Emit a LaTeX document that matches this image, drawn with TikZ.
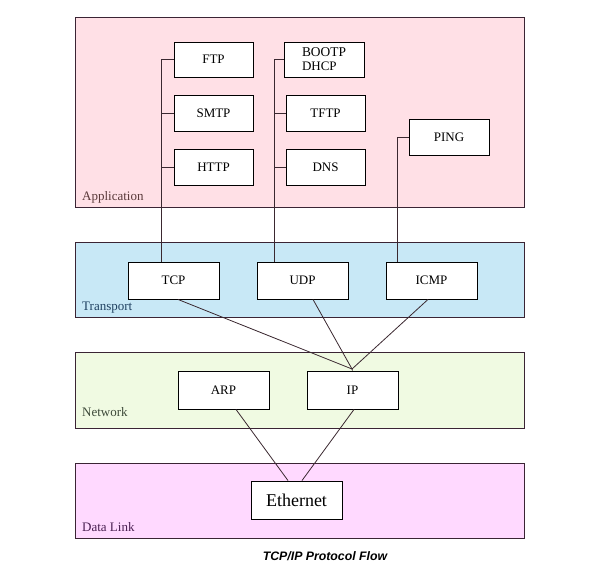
\documentclass[tikz,border=0pt]{standalone}
\usepackage{fontspec}
\setmainfont{Liberation Serif}
\newfontfamily\capfont{Liberation Sans}
\definecolor{appfill}{HTML}{FFE0E6}
\definecolor{trfill}{HTML}{C8E8F6}
\definecolor{netfill}{HTML}{F0FAE2}
\definecolor{dlfill}{HTML}{FFD9FF}
\definecolor{layerborder}{HTML}{3A2434}
\definecolor{applabel}{HTML}{5A3A3A}
\definecolor{trlabel}{HTML}{1F4060}
\definecolor{netlabel}{HTML}{3E4A3A}
\definecolor{dllabel}{HTML}{4A2052}
\definecolor{linkcol}{HTML}{3A2830}
\begin{document}
\begin{tikzpicture}[x=1pt,y=-1pt,
  layer/.style={draw=layerborder, line width=1pt},
  proto/.style={draw=black, fill=white, line width=0.9pt, font=\fontsize{13}{14}\selectfont, align=left},
  layerlabel/.style={anchor=west, font=\fontsize{13}{14}\selectfont, inner sep=0pt},
  link/.style={draw=linkcol, line width=0.8pt}]
\useasboundingbox (0,0) rectangle (597,577);
% layers
\draw[layer, fill=appfill] (75,18) rectangle (524,208);
\draw[layer, fill=trfill] (75,243) rectangle (524,318);
\draw[layer, fill=netfill] (75,352) rectangle (524,428);
\draw[layer, fill=dlfill] (75,463) rectangle (524,538);
\node[layerlabel, text=applabel] (lapp) at (82,197) {Application};
\node[layerlabel, text=trlabel] (ltr) at (82,308) {Transport};
\node[layerlabel, text=netlabel] (lnet) at (82,412) {Network};
\node[layerlabel, text=dllabel] (ldl) at (82,527) {Data Link};
% application boxes
\node[proto, minimum width=79pt, minimum height=35pt] (ftp) at (213.5,59.5) {FTP};
\node[proto, minimum width=79pt, minimum height=36pt] (smtp) at (213.5,113) {SMTP};
\node[proto, minimum width=79pt, minimum height=36pt] (http) at (213.5,167) {HTTP};
\node[proto, minimum width=80pt, minimum height=35pt, inner sep=1pt] (bootp) at (324,59.5) {\fontsize{13.4}{13}\selectfont BOOTP\\DHCP};
\node[proto, minimum width=79pt, minimum height=36pt] (tftp) at (325.5,113) {TFTP};
\node[proto, minimum width=79pt, minimum height=36pt] (dns) at (325.5,167) {DNS};
\node[proto, minimum width=80pt, minimum height=36pt] (ping) at (449,137) {PING};
% transport
\node[proto, minimum width=91pt, minimum height=37pt] (tcp) at (173.5,280.5) {TCP};
\node[proto, minimum width=91pt, minimum height=37pt] (udp) at (302.5,280.5) {UDP};
\node[proto, minimum width=91pt, minimum height=37pt] (icmp) at (431.5,280.5) {ICMP};
% network
\node[proto, minimum width=91pt, minimum height=38pt] (arp) at (223.5,390) {ARP};
\node[proto, minimum width=91pt, minimum height=38pt] (ip) at (352.5,390) {IP};
% data link
\node[proto, minimum width=91pt, minimum height=38pt, font=\fontsize{18}{19}\selectfont] (eth) at (296.5,500) {Ethernet};
% caption
\node[font=\capfont\bfseries\itshape\fontsize{12.3}{13}\selectfont] (cap) at (325,556) {TCP/IP Protocol Flow};
% connectors application -> transport
\coordinate (tcpj) at (161,0);
\coordinate (udpj) at (274,0);
\coordinate (icmpj) at (397,0);
\draw[link] (ftp.west) -- (ftp.west -| tcpj) -- (tcp.north -| tcpj);
\draw[link] (smtp.west) -- (smtp.west -| tcpj);
\draw[link] (http.west) -- (http.west -| tcpj);
\draw[link] (bootp.west) -- (bootp.west -| udpj) -- (udp.north -| udpj);
\draw[link] (tftp.west) -- (tftp.west -| udpj);
\draw[link] (dns.west) -- (dns.west -| udpj);
\draw[link] (ping.west) -- (ping.west -| icmpj) -- (icmp.north -| icmpj);
% transport -> network
\coordinate (ipj) at (352,369);
\draw[link] ([xshift=4.5pt]tcp.south) -- (ipj);
\draw[link] ([xshift=10.5pt]udp.south) -- (ipj);
\draw[link] ([xshift=-3.5pt]icmp.south) -- (ipj);
\draw[link] (ipj) -- (ip.north);
% network -> data link
\draw[link] ([xshift=12.5pt]arp.south) -- ([xshift=-8.5pt]eth.north);
\draw[link] ([xshift=1.5pt]ip.south) -- ([xshift=5.5pt]eth.north);
\end{tikzpicture}
\end{document}
